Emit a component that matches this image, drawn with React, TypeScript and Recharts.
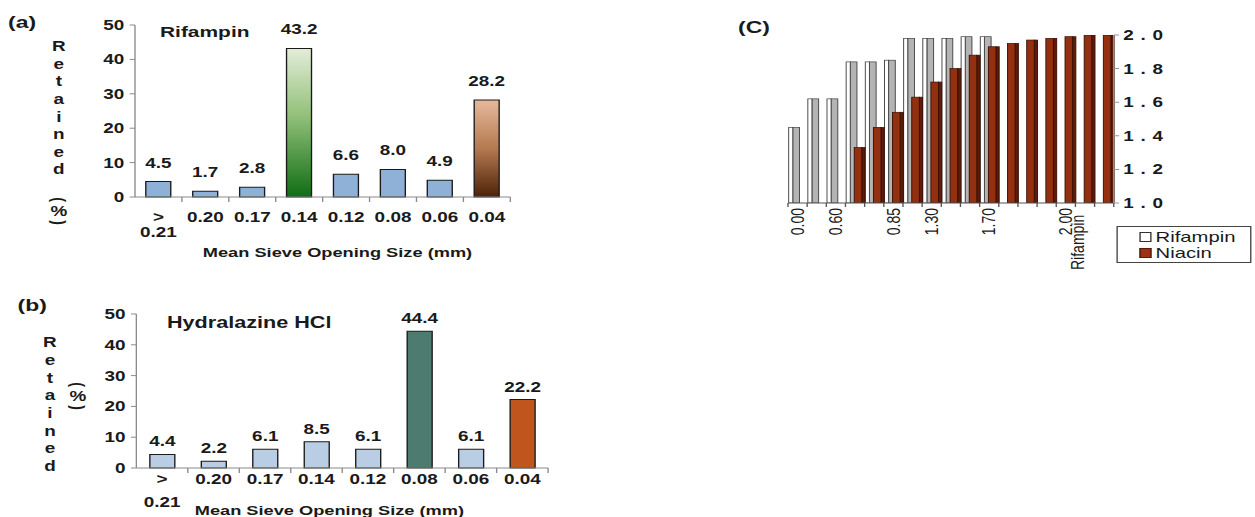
import React from "react";
import { BarChart, Bar, XAxis, YAxis, Cell, LabelList, Legend } from "recharts";

// ---------------- data ----------------
const sieveSizes = ["> 0.21", "0.20", "0.17", "0.14", "0.12", "0.08", "0.06", "0.04"];
const rifampinRetained = [4.5, 1.7, 2.8, 43.2, 6.6, 8.0, 4.9, 28.2];
const hydralazineRetained = [4.4, 2.2, 6.1, 8.5, 6.1, 44.4, 6.1, 22.2];
const retainedTicks = [0, 10, 20, 30, 40, 50];

const panelCTickLabels = ["0.00", "", "0.60", "", "", "0.85", "", "1.30", "", "", "1.70", "", "", "", "2.00", "", ""];
const panelCRifampin = [1.45, 1.62, 1.62, 1.84, 1.84, 1.85, 1.98, 1.98, 1.98, 1.99, 1.99, null, null, null, null, null, null];
const panelCNiacin = [null, null, null, 1.33, 1.45, 1.54, 1.63, 1.72, 1.8, 1.88, 1.93, 1.95, 1.97, 1.98, 1.99, 2.0, 2.0];
const panelCTicks = [1.0, 1.2, 1.4, 1.6, 1.8, 2.0];
const panelCSeries = ["Rifampin", "Niacin"];

const retainedTitle = "Retained";
const xTitle = "Mean Sieve Opening Size (mm)";

// ---------------- styles ----------------
const STRETCH = 1.35;
const FONT = '"Liberation Sans", Arial, sans-serif';
const INK = "#1a1a1a";
const AXIS = "#8a8a8a";

const fillsA: Record<string, string> = { "0.14": "url(#gradGreen)", "0.04": "url(#gradBrown)" };
const defaultFillA = "#8fb1d7";
const fillsB: Record<string, string> = { "0.08": "#4e7b70", "0.04": "#c0561e" };
const defaultFillB = "#b9cde5";

const legendSwatch: Record<string, { fill: string; stroke: string }> = {
  Rifampin: { fill: "#ffffff", stroke: "#333" },
  Niacin: { fill: "#9a3414", stroke: "#5a1a08" },
};

const dataA = sieveSizes.map((size, i) => ({ size, retained: rifampinRetained[i] }));
const dataB = sieveSizes.map((size, i) => ({ size, retained: hydralazineRetained[i] }));
const dataC = panelCTickLabels.map((_, i) => ({ i, rifampin: panelCRifampin[i], niacin: panelCNiacin[i] }));

// layout (unstretched units)
const A = { w: 420, h: 270, yw: 100, mt: 25, mr: 42, xh: 73 };
const B = { w: 440, h: 227, yw: 101, mt: 24, mr: 34, xh: 49 };
const C = { w: 360, h: 260, yw: 50, mt: 35, mr: 60, ml: 8.7, xh: 57 };
const bandA = (A.w - A.yw - A.mr) / sieveSizes.length;
const bandB = (B.w - B.yw - B.mr) / sieveSizes.length;
const bandC = (C.w - C.yw - C.mr - C.ml) / panelCTickLabels.length;

function sieveTick(band: number, count: number, firstDy: number, lineGap: number) {
  return (props: any) => {
    const { x, y, payload, index } = props;
    const lines = String(payload.value).split(" ");
    const left = x - band / 2;
    const right = x + band / 2;
    return (
      <g>
        {index > 0 && <line x1={left} x2={left} y1={y} y2={y + 5} stroke={AXIS} />}
        {index === count - 1 && <line x1={right} x2={right} y1={y} y2={y + 5} stroke={AXIS} />}
        {lines.map((ln, k) => (
          <text
            key={k}
            x={x}
            y={y + firstDy + k * lineGap}
            textAnchor="middle"
            dominantBaseline="central"
            fontSize={14}
            fontWeight="bold"
            fill={INK}
            fontFamily={FONT}
          >
            {ln}
          </text>
        ))}
      </g>
    );
  };
}

const cTick = (props: any) => {
  const { x, y, payload, index } = props;
  const label = panelCTickLabels[payload.value] ?? "";
  const left = x - bandC / 2;
  const right = x + bandC / 2;
  return (
    <g>
      <line x1={left} x2={left} y1={y} y2={y + 4} stroke="#555" />
      {index === panelCTickLabels.length - 1 && <line x1={right} x2={right} y1={y} y2={y + 4} stroke="#555" />}
      {label && (
        <text
          transform={`translate(${x},${y + 5}) rotate(-90)`}
          textAnchor="end"
          dominantBaseline="central"
          fontSize={14}
          fill={INK}
          fontFamily={FONT}
        >
          {label}
        </text>
      )}
    </g>
  );
};

function prism(front: string, side: string, edge: string, key: string, frontShare: number) {
  return (props: any) => {
    const { x, y, width, height, payload } = props;
    if (!payload || payload[key] == null || !(height > 0)) return <g />;
    const fw = width * frontShare;
    return (
      <g>
        <rect x={x + fw} y={y} width={width - fw} height={height} fill={side} stroke={edge} strokeWidth={0.7} />
        <rect x={x} y={y} width={fw} height={height} fill={front} stroke={edge} strokeWidth={0.7} />
      </g>
    );
  };
}

const legendContent = (props: any) => {
  const items = [...(props.payload || [])].sort(
    (p: any, q: any) => panelCSeries.indexOf(p.value) - panelCSeries.indexOf(q.value)
  );
  return (
    <div
      style={{
        border: "1px solid #444",
        padding: "2px 4px 2px 16px",
        fontFamily: FONT,
        fontSize: 15,
        lineHeight: "16px",
        color: INK,
        background: "#fff",
        boxSizing: "border-box",
        height: 37,
      }}
    >
      {items.map((it: any) => {
        const sw = legendSwatch[it.value] || { fill: it.color, stroke: "#333" };
        return (
          <div key={it.value} style={{ display: "flex", alignItems: "center", height: 16 }}>
            <span
              style={{
                display: "inline-block",
                width: 7,
                height: 8,
                background: sw.fill,
                border: `1px solid ${sw.stroke}`,
                marginRight: 3,
              }}
            />
            <span>{it.value}</span>
          </div>
        );
      })}
    </div>
  );
};

const abs = (left: number, top: number, extra: React.CSSProperties = {}): React.CSSProperties => ({
  position: "absolute",
  left,
  top,
  whiteSpace: "nowrap",
  ...extra,
});

function StackedTitle({ cx, firstCy, gap }: { cx: number; firstCy: number; gap: number }) {
  return (
    <div
      style={abs(cx - 8, firstCy - gap / 2, {
        width: 16,
        textAlign: "center",
        lineHeight: `${gap}px`,
        fontSize: 14,
        fontWeight: "bold",
        color: INK,
      })}
    >
      {retainedTitle.split("").map((ch, k) => (
        <div key={k}>{ch}</div>
      ))}
    </div>
  );
}

function PercentVertical({ cx, top }: { cx: number; top: number }) {
  const paren: React.CSSProperties = { transform: "rotate(90deg)", height: 9, lineHeight: "9px" };
  return (
    <div
      style={abs(cx - 9, top, {
        width: 18,
        textAlign: "center",
        fontSize: 14,
        fontWeight: "bold",
        color: INK,
      })}
    >
      <div style={paren}>(</div>
      <div style={{ height: 14, lineHeight: "14px" }}>%</div>
      <div style={paren}>)</div>
    </div>
  );
}

export default function App() {
  return (
    <div
      style={{
        position: "absolute",
        left: 0,
        top: 0,
        width: 930,
        height: 517,
        transform: `scaleX(${STRETCH})`,
        transformOrigin: "0 0",
        fontFamily: FONT,
        background: "#fff",
        overflow: "hidden",
      }}
    >
      {/* ---------- panel (a) ---------- */}
      <div style={abs(0, 0)}>
        <BarChart width={A.w} height={A.h} data={dataA} margin={{ top: A.mt, right: A.mr, left: 0, bottom: 0 }} barSize={18.5}>
          <defs>
            <linearGradient id="gradGreen" x1="0" y1="0" x2="0" y2="1">
              <stop offset="0%" stopColor="#e3edd8" />
              <stop offset="45%" stopColor="#93c07a" />
              <stop offset="100%" stopColor="#0f6e13" />
            </linearGradient>
            <linearGradient id="gradBrown" x1="0" y1="0" x2="0" y2="1">
              <stop offset="0%" stopColor="#e6b99c" />
              <stop offset="50%" stopColor="#b47a50" />
              <stop offset="100%" stopColor="#4e2208" />
            </linearGradient>
          </defs>
          <XAxis
            dataKey="size"
            height={A.xh}
            interval={0}
            tickLine={false}
            tickSize={0}
            tickMargin={0}
            axisLine={{ stroke: AXIS }}
            tick={sieveTick(bandA, sieveSizes.length, 20, 15.5)}
          />
          <YAxis
            width={A.yw}
            domain={[0, 50]}
            ticks={retainedTicks}
            interval={0}
            tickSize={4}
            tickMargin={4}
            axisLine={{ stroke: AXIS }}
            tickLine={{ stroke: AXIS }}
            tick={{ fontSize: 14, fontWeight: "bold", fill: INK, fontFamily: FONT }}
          />
          <Bar dataKey="retained" isAnimationActive={false} stroke={INK} strokeWidth={1}>
            {dataA.map((d) => (
              <Cell key={d.size} fill={fillsA[d.size] || defaultFillA} />
            ))}
            <LabelList
              dataKey="retained"
              position="top"
              offset={14}
              formatter={(v: any) => Number(v).toFixed(1)}
              fontSize={14}
              fontWeight="bold"
              fill={INK}
              fontFamily={FONT}
            />
          </Bar>
        </BarChart>
      </div>
      <div style={abs(6, 13, { fontSize: 17, fontWeight: "bold", color: INK, lineHeight: "20px" })}>(a)</div>
      <div style={abs(118.5, 23, { fontSize: 15.5, fontWeight: "bold", color: INK, lineHeight: "18px" })}>Rifampin</div>
      <StackedTitle cx={43.6} firstCy={47} gap={17.6} />
      <PercentVertical cx={43.6} top={195} />
      <div style={abs(100, 244, { width: 300, textAlign: "center", fontSize: 13.5, fontWeight: "bold", color: INK, lineHeight: "18px" })}>
        {xTitle}
      </div>

      {/* ---------- panel (b) ---------- */}
      <div style={abs(0, 290)}>
        <BarChart width={B.w} height={B.h} data={dataB} margin={{ top: B.mt, right: B.mr, left: 0, bottom: 0 }} barSize={18.5}>
          <XAxis
            dataKey="size"
            height={B.xh}
            interval={0}
            tickLine={false}
            tickSize={0}
            tickMargin={0}
            axisLine={{ stroke: AXIS }}
            tick={sieveTick(bandB, sieveSizes.length, 11, 23)}
          />
          <YAxis
            width={B.yw}
            domain={[0, 50]}
            ticks={retainedTicks}
            interval={0}
            tickSize={4}
            tickMargin={4}
            axisLine={{ stroke: AXIS }}
            tickLine={{ stroke: AXIS }}
            tick={{ fontSize: 14, fontWeight: "bold", fill: INK, fontFamily: FONT }}
          />
          <Bar dataKey="retained" isAnimationActive={false} stroke={INK} strokeWidth={1}>
            {dataB.map((d) => (
              <Cell key={d.size} fill={fillsB[d.size] || defaultFillB} />
            ))}
            <LabelList
              dataKey="retained"
              position="top"
              offset={8}
              formatter={(v: any) => Number(v).toFixed(1)}
              fontSize={14}
              fontWeight="bold"
              fill={INK}
              fontFamily={FONT}
            />
          </Bar>
        </BarChart>
      </div>
      <div style={abs(13, 296, { fontSize: 17, fontWeight: "bold", color: INK, lineHeight: "20px" })}>(b)</div>
      <div style={abs(123.7, 314, { fontSize: 16, fontWeight: "bold", color: INK, lineHeight: "18px" })}>Hydralazine HCl</div>
      <StackedTitle cx={37} firstCy={343} gap={17.7} />
      <PercentVertical cx={57.8} top={380} />
      <div style={abs(94, 502, { width: 300, textAlign: "center", fontSize: 13.5, fontWeight: "bold", color: INK, lineHeight: "18px" })}>
        {xTitle}
      </div>

      {/* ---------- panel (C) ---------- */}
      <div style={abs(575, 0)}>
        <BarChart
          width={C.w}
          height={C.h}
          data={dataC}
          margin={{ top: C.mt, right: C.mr, left: C.ml, bottom: 0 }}
          barGap={-2}
          barCategoryGap={0.5}
        >
          <XAxis
            dataKey="i"
            type="category"
            height={C.xh}
            interval={0}
            tickLine={false}
            tickSize={0}
            tickMargin={0}
            axisLine={{ stroke: "#555" }}
            tick={cTick}
          />
          <YAxis
            orientation="right"
            width={C.yw}
            domain={[1, 2]}
            ticks={panelCTicks}
            interval={0}
            allowDataOverflow
            tickSize={4}
            tickMargin={3}
            axisLine={{ stroke: "#999" }}
            tickLine={{ stroke: "#999" }}
            tickFormatter={(v: any) => Number(v).toFixed(1)}
            tick={{ fontSize: 14, fontWeight: "bold", fill: INK, fontFamily: FONT, letterSpacing: 5 } as any}
          />
          <Legend
            layout="vertical"
            align="center"
            verticalAlign="middle"
            content={legendContent}
            wrapperStyle={{ position: "absolute", left: 252, top: 226, width: 100, height: 37 }}
          />
          <Bar
            dataKey="rifampin"
            name="Rifampin"
            fill="#ffffff"
            isAnimationActive={false}
            shape={prism("#ffffff", "#b4b4b4", "#444", "rifampin", 0.38)}
          />
          <Bar
            dataKey="niacin"
            name="Niacin"
            fill="#9a3414"
            isAnimationActive={false}
            shape={prism("#93300f", "#5e1b08", "#3a1005", "niacin", 0.7)}
          />
        </BarChart>
      </div>
      <div style={abs(546.7, 18, { fontSize: 17, fontWeight: "bold", color: INK, lineHeight: "20px" })}>(C)</div>
      <svg style={abs(788, 212, { overflow: "visible" })} width={22} height={62}>
        <text
          transform="translate(10.5,58) rotate(-90)"
          textAnchor="start"
          dominantBaseline="central"
          fontSize={14}
          fill={INK}
          fontFamily={FONT}
        >
          Rifampin
        </text>
      </svg>
    </div>
  );
}
